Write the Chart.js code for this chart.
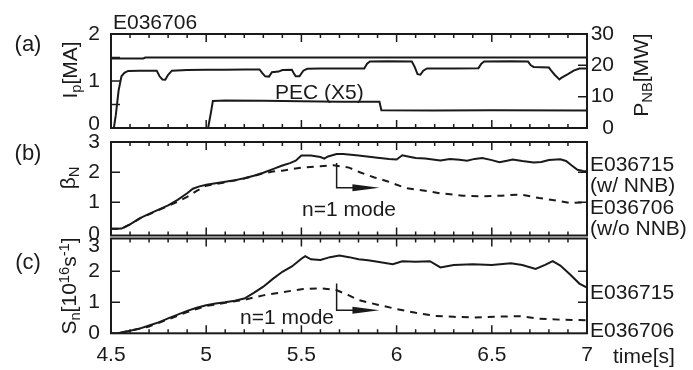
<!DOCTYPE html>
<html><head><meta charset="utf-8">
<script src="https://cdn.jsdelivr.net/npm/chart.js@4"></script>
<style>
html,body{margin:0;padding:0;background:#fff;}
#wrap{position:relative;width:693px;height:370px;overflow:hidden;font-family:"Liberation Sans",Arial,sans-serif;color:#1a1a1a;}
canvas{position:absolute;left:0;}
.t{position:absolute;font-size:21px;line-height:1;white-space:nowrap;}
.c{transform:translate(-50%,-50%);}
.l{transform:translate(0,-50%);}
.rr{transform:translate(-100%,-50%);}
.r{transform:translate(-50%,-50%) rotate(-90deg);}
.sb{font-size:70%;position:relative;top:0.3em;}
.sp{font-size:70%;position:relative;top:-0.45em;}
</style></head>
<body><div id="wrap">
<canvas id="ca" width="693" height="140" style="top:0px"></canvas>
<canvas id="cb" width="693" height="122" style="top:128px"></canvas>
<canvas id="cc" width="693" height="146" style="top:224px"></canvas>

<div class="t c" style="left:28px;top:44px;font-size:22px">(a)</div>
<div class="t c" style="left:28px;top:153px;font-size:22px">(b)</div>
<div class="t c" style="left:28px;top:262px;font-size:22px">(c)</div>
<div class="t l" style="left:113px;top:21px">E036706</div>
<div class="t r" style="left:69px;top:70px">I<span class="sb">p</span>[MA]</div>
<div class="t r" style="left:640px;top:75px">P<span class="sb">NB</span>[MW]</div>
<div class="t r" style="left:67px;top:178px">β<span class="sb">N</span></div>
<div class="t r" style="left:68px;top:286px">S<span class="sb">n</span>[10<span class="sp">16</span>s<span class="sp">-1</span>]</div>
<!-- edge tick labels that the original nudges inside the frames -->
<div class="t rr" style="left:100px;top:122px">0</div>
<div class="t rr" style="left:100px;top:232px">0</div>
<div class="t rr" style="left:100px;top:244px">3</div>
<div class="t l" style="left:275px;top:91px">PEC (X5)</div>
<div class="t l" style="left:302px;top:207.5px">n=1 mode</div>
<div class="t l" style="left:240px;top:315.5px">n=1 mode</div>
<div class="t l" style="left:590px;top:162.5px">E036715</div>
<div class="t l" style="left:590px;top:184px">(w/ NNB)</div>
<div class="t l" style="left:590px;top:206px">E036706</div>
<div class="t l" style="left:590px;top:226.5px">(w/o NNB)</div>
<div class="t l" style="left:590px;top:290.5px">E036715</div>
<div class="t l" style="left:590px;top:328.5px">E036706</div>
<div class="t l" style="left:613px;top:355px">time[s]</div>
</div>
<script>
// ---------- DATA ----------
const xTickLabels = ['4.5','5','5.5','6','6.5','7'];
const yTicksIp   = [1, 2];          // "0" placed as text just above the frame bottom
const yTicksPNB  = [0, 10, 20, 30];
const yTicksBeta = [1, 2, 3];       // "0" placed as text
const yTicksSn   = [0, 1, 2];       // "3" placed as text just under the frame top

// (a) plasma current Ip [MA]
const ipTime = [4.5, 4.67, 4.68, 7.0];
const ipMA   = [1.48, 1.48, 1.5, 1.5];

// (a) NBI power PNB [MW]
const pnbTime = [4.5,4.515,4.525,4.54,4.555,4.57,4.59,4.65,4.74,4.755,4.77,4.785,4.80,4.82,4.9,5.0,5.1,5.2,5.28,5.295,5.31,5.33,5.345,5.38,5.40,5.45,5.46,5.47,5.49,5.51,5.53,5.6,5.7,5.83,5.845,5.86,5.95,6.08,6.095,6.11,6.125,6.14,6.16,6.3,6.43,6.445,6.46,6.6,6.69,6.705,6.72,6.8,6.81,6.83,6.855,6.865,6.9,6.93,6.96,7.0];
const pnbMW   = [0,0,4,12,16.5,17.6,18.2,18.3,18.3,16.5,15.5,15.4,17,18.3,18.5,18.6,18.6,18.7,18.7,17.5,16.5,16.4,17.8,18.0,18.5,18.6,17.5,16.5,16.5,18.3,18.9,19.0,19.0,19.0,20.5,21.2,21.3,21.2,19.5,17.2,17.0,18.3,19.0,19.0,19.1,20.5,21.2,21.3,21.2,20.0,19.5,19.3,18.5,17.0,15.5,16.0,17.2,18.3,19.0,19.0];

// (a) ECH power x5 [MW]
const pecTime = [5.0,5.01,5.025,5.035,5.1,5.3,5.5,5.7,5.91,5.92,6.2,6.5,7.0];
const pecMW   = [0,0,5,8.6,8.8,8.7,8.5,8.4,8.4,5.7,5.6,5.7,5.6];

// (b) beta_N
const betaTime715 = [4.5,4.53,4.556,4.6,4.65,4.7,4.75,4.8,4.85,4.9,4.93,4.96,5.0,5.05,5.1,5.14,5.2,5.25,5.3,5.35,5.4,5.44,5.47,5.5,5.55,5.6,5.62,5.64,5.685,5.72,5.8,5.9,5.96,6.0,6.03,6.06,6.1,6.15,6.23,6.28,6.33,6.37,6.41,6.45,6.5,6.54,6.58,6.61,6.66,6.72,6.76,6.8,6.86,6.89,6.92,6.95,6.98,7.0];
const beta715     = [0.12,0.12,0.13,0.27,0.47,0.62,0.76,0.9,1.08,1.3,1.45,1.52,1.58,1.63,1.68,1.72,1.8,1.88,1.98,2.1,2.22,2.3,2.38,2.55,2.55,2.5,2.45,2.52,2.6,2.6,2.55,2.48,2.44,2.42,2.56,2.52,2.47,2.45,2.39,2.44,2.41,2.38,2.44,2.47,2.4,2.33,2.38,2.42,2.37,2.32,2.34,2.40,2.43,2.37,2.22,2.08,2.04,2.03];
const betaTime706 = [4.5,4.556,4.6,4.65,4.7,4.75,4.8,4.85,4.9,4.95,5.0,5.1,5.2,5.3,5.35,5.4,5.5,5.6,5.67,5.75,5.81,5.88,5.95,6.05,6.16,6.23,6.35,6.44,6.55,6.65,6.75,6.85,6.91,7.0];
const beta706     = [0.12,0.13,0.27,0.46,0.6,0.74,0.88,1.02,1.18,1.38,1.55,1.66,1.79,1.96,2.02,2.05,2.15,2.2,2.23,2.15,1.99,1.83,1.7,1.47,1.37,1.3,1.22,1.2,1.22,1.26,1.14,1.05,0.98,1.0];

// (c) neutron rate Sn [1e16 /s]
const snTime715 = [4.5,4.535,4.55,4.6,4.65,4.7,4.75,4.8,4.85,4.9,4.95,5.0,5.05,5.1,5.15,5.2,5.25,5.3,5.35,5.4,5.45,5.5,5.52,5.55,5.6,5.65,5.7,5.75,5.8,5.85,5.9,5.98,6.03,6.1,6.175,6.23,6.3,6.4,6.5,6.6,6.66,6.73,6.78,6.82,6.86,6.91,6.96,7.0];
const sn715     = [0,0,0.02,0.08,0.15,0.25,0.35,0.48,0.6,0.72,0.82,0.9,0.96,1.0,1.05,1.12,1.3,1.5,1.75,1.98,2.15,2.4,2.48,2.38,2.36,2.45,2.5,2.45,2.38,2.35,2.3,2.22,2.32,2.3,2.32,2.12,2.2,2.22,2.2,2.25,2.2,2.07,2.2,2.32,2.18,1.9,1.6,1.47];
const snTime706 = [4.55,4.6,4.7,4.8,4.9,5.0,5.1,5.2,5.3,5.4,5.5,5.6,5.68,5.75,5.8,5.9,6.0,6.1,6.2,6.3,6.4,6.55,6.65,6.75,6.85,7.0];
const sn706     = [0.02,0.08,0.22,0.45,0.68,0.88,0.98,1.08,1.22,1.32,1.42,1.45,1.4,1.22,1.07,0.92,0.78,0.66,0.56,0.53,0.51,0.54,0.55,0.47,0.44,0.42];

// annotation arrows (data coordinates): [time of vertical, top value, bottom value, time of arrow tip]
const arrowB = [5.685, 2.3, 1.48, 5.91];
const arrowC = [5.685, 1.6, 0.74, 5.91];

// ---------- helpers ----------
const INK = '#1a1a1a';
const FONT = {family:'"Liberation Sans", Arial, sans-serif', size:21};
const pts = (t, v) => t.map((x, i) => ({x, y: v[i]}));
const noPad = s => { s.paddingTop = 0; s.paddingBottom = 0; s.paddingLeft = 0; s.paddingRight = 0; };

const framePlugin = {
  id: 'frame',
  afterDatasetsDraw(chart, args, o) {
    const {ctx, chartArea: a, scales} = chart;
    const xs = scales.x, yl = scales.y, yr = scales.y2 || scales.y;
    ctx.save();
    ctx.strokeStyle = INK; ctx.fillStyle = INK;
    ctx.lineWidth = 1.5;
    ctx.beginPath();
    for (let k = 0; k <= 25; k++) {
      const px = xs.getPixelForValue(4.5 + k * 0.1);
      const len = (k % 5 === 0) ? 8 : 4;
      ctx.moveTo(px, a.top); ctx.lineTo(px, a.top + len);
      ctx.moveTo(px, a.bottom); ctx.lineTo(px, a.bottom - len);
    }
    (o.leftTicks || []).forEach(v => { const py = yl.getPixelForValue(v); ctx.moveTo(a.left, py); ctx.lineTo(a.left + 9, py); });
    (o.rightTicks || []).forEach(v => { const py = yr.getPixelForValue(v); ctx.moveTo(a.right, py); ctx.lineTo(a.right - 9, py); });
    ctx.stroke();
    ctx.lineWidth = 2;
    ctx.strokeRect(a.left, a.top, a.width, a.height);
    if (o.arrow) {
      const [t0, vTop, vBot, t1] = o.arrow;
      const x0 = xs.getPixelForValue(t0), x1 = xs.getPixelForValue(t1);
      const y0 = yl.getPixelForValue(vTop), y1 = yl.getPixelForValue(vBot);
      ctx.lineWidth = 1.5;
      ctx.beginPath(); ctx.moveTo(x0, y0); ctx.lineTo(x0, y1); ctx.lineTo(x1 - 20, y1); ctx.stroke();
      ctx.beginPath(); ctx.moveTo(x1, y1); ctx.lineTo(x1 - 27, y1 - 3.5); ctx.lineTo(x1 - 27, y1 + 3.5); ctx.closePath(); ctx.fill();
    }
    ctx.restore();
  }
};

const axisY = (pos, min, max, tickVals, width) => ({
  type:'linear', position:pos, min, max,
  afterFit(s){ s.width = width; noPad(s); },
  afterBuildTicks(s){ s.ticks = tickVals.map(v => ({value: v})); },
  grid:{display:false, drawTicks:false}, border:{display:false},
  ticks:{padding: pos === 'left' ? 11 : 6, autoSkip:false, crossAlign: pos === 'left' ? 'near' : 'far',
         color:INK, font:FONT, callback: v => String(v)}
});
const xHidden = {type:'linear', min:4.5, max:7, display:false};
const solid = (data, axis) => ({data, borderColor:INK, borderWidth:2, pointRadius:0, tension:0, yAxisID: axis || 'y'});
const dashed = (data) => ({data, borderColor:INK, borderWidth:2, borderDash:[7,6], pointRadius:0, tension:0, yAxisID:'y'});

function make(id, datasets, scales, padding, frameOpts) {
  return new Chart(document.getElementById(id), {
    type:'line',
    data:{datasets},
    options:{
      responsive:false, animation:false, devicePixelRatio:1,
      layout:{padding},
      plugins:{legend:{display:false}, tooltip:{enabled:false}, frame:frameOpts},
      scales
    },
    plugins:[framePlugin]
  });
}

// (a)
make('ca', [
  solid(pts(ipTime, ipMA), 'y'),
  solid(pts(pnbTime, pnbMW), 'y2'),
  solid(pts(pecTime, pecMW), 'y2')
], {
  x: xHidden,
  y: axisY('left', 0, 2, yTicksIp, 111),
  y2: axisY('right', 0, 30, yTicksPNB, 27)
}, {top:34, bottom:12, left:0, right:79}, {leftTicks:[0.5,1,1.5], rightTicks:[10,20]});

// (b)
make('cb', [
  solid(pts(betaTime715, beta715)),
  dashed(pts(betaTime706, beta706))
], {
  x: xHidden,
  y: axisY('left', -0.1, 3, yTicksBeta, 111)
}, {top:14, bottom:14.5, left:0, right:106}, {leftTicks:[1,2], rightTicks:[1,2], arrow:arrowB});

// (c)
make('cc', [
  solid(pts(snTime715, sn715)),
  dashed(pts(snTime706, sn706))
], {
  x: {type:'linear', position:'bottom', min:4.5, max:7,
      afterFit(s){ s.height = 36.7; noPad(s); },
      grid:{display:false, drawTicks:false}, border:{display:false},
      ticks:{stepSize:0.5, padding:9, maxRotation:0, autoSkip:false, color:INK, font:FONT,
             callback:(v, i) => xTickLabels[i]}},
  y: axisY('left', 0, 3.05, yTicksSn, 111)
}, {top:14.5, bottom:0, left:0, right:106}, {leftTicks:[1,2], rightTicks:[1,2], arrow:arrowC});
</script>
</body></html>
